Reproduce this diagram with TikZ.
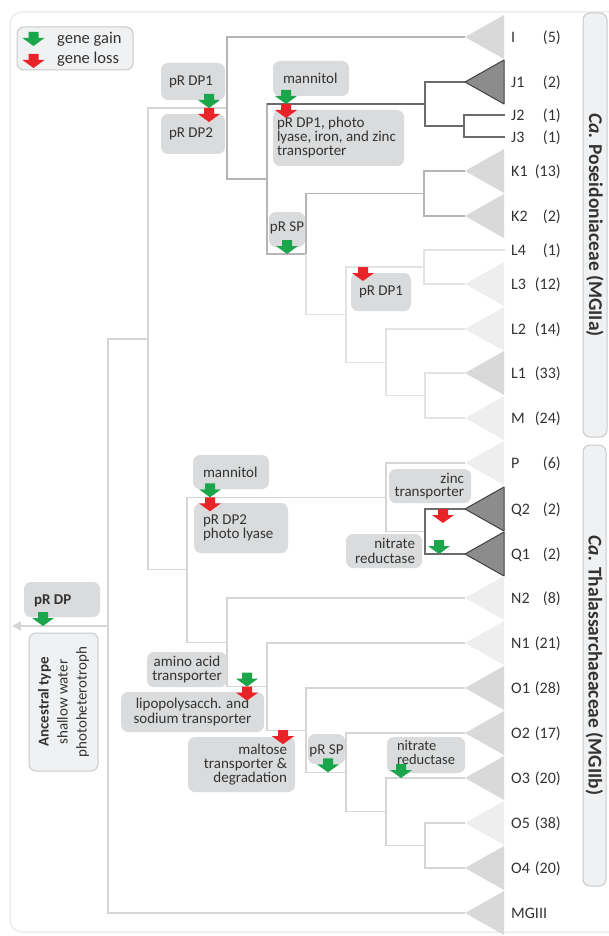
\documentclass[tikz,border=0pt]{standalone}
\usepackage{fontspec}
\setmainfont{Carlito}
\usetikzlibrary{arrows.meta}

\definecolor{gaingreen}{HTML}{1BA64B}
\definecolor{lossred}{HTML}{E82429}
\definecolor{tagfill}{HTML}{DADBDC}
\definecolor{softfill}{HTML}{F0F1F2}
\definecolor{softline}{HTML}{C8C9CA}
\definecolor{framegray}{HTML}{EBECEC}
\definecolor{textgray}{HTML}{333333}
\definecolor{rootgray}{HTML}{D5D5D5}
\definecolor{midgray}{HTML}{B5B5B5}
\definecolor{palegray}{HTML}{E3E3E3}
\definecolor{linedark}{HTML}{6B6B6B}
\definecolor{cladedark}{HTML}{8C8C8C}
\definecolor{cladegray}{HTML}{D9D9D9}
\definecolor{cladepale}{HTML}{EEEEEE}

\tikzset{
  gain/.pic={\fill[gaingreen] (-5,-14) -- (5,-14) -- (5,-8) -- (11,-8) -- (0,0) -- (-11,-8) -- (-5,-8) -- cycle;},
  loss/.pic={\fill[lossred] (-5,0) -- (5,0) -- (5,6) -- (11,6) -- (0,14) -- (-11,6) -- (-5,6) -- cycle;},
  clade/.pic={\path[pic actions] (0,0) -- (39,-22) -- (39,22) -- cycle;},
  tag/.style={fill=tagfill, rounded corners=7pt, inner sep=0pt},
  tagtext/.style={text=textgray, inner sep=0pt, font=\fontsize{15}{14.5}\selectfont},
  softbox/.style={fill=softfill, draw=softline, line width=1pt, rounded corners=7pt, inner sep=0pt, text=textgray},
  tipname/.style={anchor=base west, text=textgray, inner sep=0pt, font=\fontsize{16}{18}\selectfont},
  tipcount/.style={anchor=base east, text=textgray, inner sep=0pt, font=\fontsize{16}{18}\selectfont},
  darkclade/.style={fill=cladedark, draw=black!75, line width=1pt, line join=round},
}

\begin{document}
\begin{tikzpicture}[x=1pt,y=-1pt]
  \path[use as bounding box] (0,0) rectangle (609,936);
  \clip (0,0) rectangle (609,936);

  % frame and group boxes
  \draw[framegray, line width=1.5pt, rounded corners=12pt] (10,12) rectangle (660,932);
  \node[softbox, rotate=-90, minimum width=424pt, minimum height=24pt, font=\fontsize{19.5}{20}\selectfont\bfseries] (mgtwoa) at (595,225) {\textit{Ca.} Poseidoniaceae (MGIIa)};
  \node[softbox, rotate=-90, minimum width=441pt, minimum height=23pt, font=\fontsize{19.5}{20}\selectfont\bfseries] (mgtwob) at (594.5,665.5) {\textit{Ca.} Thalassarchaeaceae (MGIIb)};

  % legend
  \node[softbox, minimum width=116pt, minimum height=43pt] (legend) at (75,48.5) {};
  \pic at (33.5,46) {gain};
  \pic at (33.5,54) {loss};
  \node[anchor=base west, inner sep=0pt, text=textgray, font=\fontsize{16.5}{20}\selectfont] (gaintext) at (57,44) {gene gain};
  \node[anchor=base west, inner sep=0pt, text=textgray, font=\fontsize{16.5}{20}\selectfont] (losstext) at (57,64) {gene loss};

  % tree nodes
  \coordinate (stem) at (12,626);
  \coordinate (r)   at (108,626);
  \coordinate (a)   at (148,338.9);
  \coordinate (ia)  at (227,108);
  \coordinate (k)   at (267,179);
  \coordinate (j)   at (425,104);
  \coordinate (j23) at (464,126);
  \coordinate (kl)  at (306,254);
  \coordinate (kk)  at (424,193.5);
  \coordinate (l)   at (346,314.6);
  \coordinate (l34) at (424,267);
  \coordinate (lm)  at (386,362.3);
  \coordinate (l1m) at (425,395.5);
  \coordinate (ib)  at (187,569.8);
  \coordinate (pq)  at (386,497.3);
  \coordinate (q)   at (425,531.5);
  \coordinate (n)   at (227,642.3);
  \coordinate (o)   at (267,686.6);
  \coordinate (o1)  at (306,730.2);
  \coordinate (o2)  at (346,772.4);
  \coordinate (o3)  at (386,811.8);
  \coordinate (o4)  at (425,845.5);

  % tips
  \coordinate (tI)   at (465,37);
  \coordinate (tJ1)  at (465,82);
  \coordinate (tJ2)  at (505,115);
  \coordinate (tJ3)  at (505,137);
  \coordinate (tK1)  at (465,171);
  \coordinate (tK2)  at (465,216);
  \coordinate (tL4)  at (505,250);
  \coordinate (tL3)  at (465,284);
  \coordinate (tL2)  at (465,329);
  \coordinate (tL1)  at (465,373);
  \coordinate (tM)   at (465,418);
  \coordinate (tP)   at (465,463);
  \coordinate (tQ2)  at (465,509);
  \coordinate (tQ1)  at (465,554);
  \coordinate (tN2)  at (465,598);
  \coordinate (tN1)  at (465,643);
  \coordinate (tO1)  at (465,688);
  \coordinate (tO2)  at (465,733);
  \coordinate (tO3)  at (465,778);
  \coordinate (tO5)  at (465,823);
  \coordinate (tO4)  at (465,868);
  \coordinate (tMG)  at (465,913);

  % branches
  \draw[rootgray, line width=1.6pt, -{Triangle[length=9pt,width=9pt]}] (r) -- (stem);
  \begin{scope}[rootgray, line width=1.3pt]
    \draw (r) |- (a);
    \draw (r) |- (tMG);
    \draw (a) |- (ia);
    \draw (a) |- (ib);
    \draw (ib) |- (pq);
    \draw (ib) |- (n);
    \draw (pq) |- (tP);
    \draw (pq) |- (q);
    \draw (n) |- (tN2);
    \draw (n) |- (o);
    \draw (o) |- (tN1);
    \draw (o) |- (o1);
    \draw (o1) |- (tO1);
    \draw (o1) |- (o2);
    \draw (o2) |- (tO2);
    \draw (o2) |- (o3);
    \draw (o3) |- (tO3);
    \draw (o3) |- (o4);
    \draw (o4) |- (tO5);
    \draw (o4) |- (tO4);
  \end{scope}
  \begin{scope}[midgray, line width=1.3pt]
    \draw (ia) |- (tI);
    \draw (ia) |- (k);
    \draw (k) |- (j);
    \draw (k) |- (kl);
    \draw (kl) |- (kk);
    \draw (kk) |- (tK1);
    \draw (kk) |- (tK2);
  \end{scope}
  \begin{scope}[palegray, line width=1.3pt]
    \draw (kl) |- (l);
    \draw (l) |- (l34);
    \draw (l) |- (lm);
    \draw (l34) |- (tL4);
    \draw (l34) |- (tL3);
    \draw (lm) |- (tL2);
    \draw (lm) |- (l1m);
    \draw (l1m) |- (tL1);
    \draw (l1m) |- (tM);
  \end{scope}
  \begin{scope}[linedark, line width=1.3pt]
    \draw (k |- j) -- (j);
    \draw (j) |- (tJ1);
    \draw (j) |- (j23);
    \draw (j23) |- (tJ2);
    \draw (j23) |- (tJ3);
    \draw (q) |- (tQ2);
    \draw (q) |- (tQ1);
  \end{scope}

  % collapsed clades
  \pic[fill=cladegray] at (tI) {clade};
  \pic[darkclade] at (tJ1) {clade};
  \pic[fill=cladegray] at (tK1) {clade};
  \pic[fill=cladegray] at (tK2) {clade};
  \pic[fill=cladepale] at (tL3) {clade};
  \pic[fill=cladepale] at (tL2) {clade};
  \pic[fill=cladegray] at (tL1) {clade};
  \pic[fill=cladepale] at (tM) {clade};
  \pic[fill=cladepale] at (tP) {clade};
  \pic[darkclade] at (tQ2) {clade};
  \pic[darkclade] at (tQ1) {clade};
  \pic[fill=cladepale] at (tN2) {clade};
  \pic[fill=cladepale] at (tN1) {clade};
  \pic[fill=cladegray] at (tO1) {clade};
  \pic[fill=cladegray] at (tO2) {clade};
  \pic[fill=cladegray] at (tO3) {clade};
  \pic[fill=cladepale] at (tO5) {clade};
  \pic[fill=cladegray] at (tO4) {clade};
  \pic[fill=cladegray] at (tMG) {clade};

  % tip labels
  \node[tipname] (nI)  at (511,42.5)  {I};     \node[tipcount] (cI)  at (561,42.5)  {(5)};
  \node[tipname] (nJ1) at (511,87.5)  {J1};    \node[tipcount] (cJ1) at (561,87.5)  {(2)};
  \node[tipname] (nJ2) at (511,120.5) {J2};    \node[tipcount] (cJ2) at (561,120.5) {(1)};
  \node[tipname] (nJ3) at (511,142.5) {J3};    \node[tipcount] (cJ3) at (561,142.5) {(1)};
  \node[tipname] (nK1) at (511,176.5) {K1};    \node[tipcount] (cK1) at (561,176.5) {(13)};
  \node[tipname] (nK2) at (511,221.5) {K2};    \node[tipcount] (cK2) at (561,221.5) {(2)};
  \node[tipname] (nL4) at (511,255.5) {L4};    \node[tipcount] (cL4) at (561,255.5) {(1)};
  \node[tipname] (nL3) at (511,289.5) {L3};    \node[tipcount] (cL3) at (561,289.5) {(12)};
  \node[tipname] (nL2) at (511,334.5) {L2};    \node[tipcount] (cL2) at (561,334.5) {(14)};
  \node[tipname] (nL1) at (511,378.5) {L1};    \node[tipcount] (cL1) at (561,378.5) {(33)};
  \node[tipname] (nM)  at (511,423.5) {M};     \node[tipcount] (cM)  at (561,423.5) {(24)};
  \node[tipname] (nP)  at (511,468.5) {P};     \node[tipcount] (cP)  at (561,468.5) {(6)};
  \node[tipname] (nQ2) at (511,514.5) {Q2};    \node[tipcount] (cQ2) at (561,514.5) {(2)};
  \node[tipname] (nQ1) at (511,559.5) {Q1};    \node[tipcount] (cQ1) at (561,559.5) {(2)};
  \node[tipname] (nN2) at (511,603.5) {N2};    \node[tipcount] (cN2) at (561,603.5) {(8)};
  \node[tipname] (nN1) at (511,648.5) {N1};    \node[tipcount] (cN1) at (561,648.5) {(21)};
  \node[tipname] (nO1) at (511,693.5) {O1};    \node[tipcount] (cO1) at (561,693.5) {(28)};
  \node[tipname] (nO2) at (511,738.5) {O2};    \node[tipcount] (cO2) at (561,738.5) {(17)};
  \node[tipname] (nO3) at (511,783.5) {O3};    \node[tipcount] (cO3) at (561,783.5) {(20)};
  \node[tipname] (nO5) at (511,828.5) {O5};    \node[tipcount] (cO5) at (561,828.5) {(38)};
  \node[tipname] (nO4) at (511,873.5) {O4};    \node[tipcount] (cO4) at (561,873.5) {(20)};
  \node[tipname] (nMG) at (511,918.5) {MGIII};

  % gain / loss tags
  \node[tag, minimum width=64pt, minimum height=37pt] (dpone) at (193,81.5) {};
  \node[tagtext, anchor=west] at ([xshift=8pt]dpone.west) {pR DP1};
  \node[tag, minimum width=64pt, minimum height=40pt] (dptwo) at (193,134) {};
  \node[tagtext, anchor=west] at ([xshift=8pt]dptwo.west) {pR DP2};
  \node[tag, minimum width=76pt, minimum height=35pt] (mannA) at (311,78.5) {};
  \node[tagtext, anchor=west] at ([xshift=10pt]mannA.west) {mannitol};
  \node[tag, minimum width=131pt, minimum height=56pt] (photoA) at (338.5,138) {};
  \node[tagtext, anchor=west, align=left, font=\fontsize{15}{14}\selectfont] at ([xshift=4pt]photoA.west) {pR DP1, photo\\lyase, iron, and zinc\\transporter};
  \node[tag, minimum width=36pt, minimum height=35pt] (spA) at (287,229.5) {};
  \node[tagtext] at ([yshift=1.5pt]spA.center) {pR SP};
  \node[tag, minimum width=60pt, minimum height=38pt] (dpL) at (381,292) {};
  \node[tagtext] at (dpL.center) {pR DP1};
  \node[tag, minimum width=76pt, minimum height=34pt] (mannB) at (231,472) {};
  \node[tagtext, anchor=west] at ([xshift=10pt]mannB.west) {mannitol};
  \node[tag, minimum width=94pt, minimum height=50pt] (photoB) at (241,528) {};
  \node[tagtext, anchor=west, align=left] at ([xshift=9pt]photoB.west) {pR DP2\\photo lyase};
  \node[tag, minimum width=82pt, minimum height=34pt] (zinc) at (430,486) {};
  \node[tagtext, anchor=east, align=right, font=\fontsize{15}{13.5}\selectfont] at ([xshift=-7pt]zinc.east) {zinc\\transporter};
  \node[tag, minimum width=76pt, minimum height=34pt] (nitQ) at (384,551) {};
  \node[tagtext, anchor=east, align=right] at ([xshift=-7pt]nitQ.east) {nitrate\\reductase};
  \node[tag, minimum width=76pt, minimum height=35pt] (dp) at (62,599.5) {};
  \node[tagtext, anchor=west, font=\fontsize{15}{14}\selectfont\bfseries] at ([xshift=10pt,yshift=-1pt]dp.west) {pR DP};
  \node[softbox, rotate=90, minimum width=138pt, minimum height=69pt, align=center, font=\fontsize{15}{19}\selectfont] (anc) at (63.5,702) {\textbf{Ancestral type}\\shallow water\\photoheterotroph};
  \node[tag, minimum width=80pt, minimum height=35pt] (amino) at (187,669.5) {};
  \node[tagtext, align=center] at (amino.center) {amino acid\\transporter};
  \node[tag, minimum width=143pt, minimum height=40pt] (lipo) at (192.5,712) {};
  \node[tagtext, align=center] at (lipo.center) {lipopolysacch. and\\sodium transporter};
  \node[tag, minimum width=107pt, minimum height=55pt] (malt) at (241.5,764.5) {};
  \node[tagtext, anchor=east, align=right, font=\fontsize{15}{14}\selectfont] at ([xshift=-8pt]malt.east) {maltose\\transporter \&\\degradation};
  \node[tag, minimum width=37pt, minimum height=30pt] (spB) at (326.5,749) {};
  \node[tagtext] at ([yshift=-1.5pt]spB.center) {pR SP};
  \node[tag, minimum width=78pt, minimum height=36pt] (nitO) at (426,755) {};
  \node[tagtext, anchor=west, align=left, font=\fontsize{14.5}{13.5}\selectfont] at ([xshift=10pt,yshift=2.5pt]nitO.west) {nitrate\\reductase};

  % arrows on branches
  \pic at (209,108) {gain};
  \pic at (209,108) {loss};
  \pic at (286,104) {gain};
  \pic at (286,104) {loss};
  \pic at (287,254) {gain};
  \pic at (363,267) {loss};
  \pic at (210,497.3) {gain};
  \pic at (210,497.3) {loss};
  \pic at (443,509) {loss};
  \pic at (439,554) {gain};
  \pic at (43,626) {gain};
  \pic at (247,686.6) {gain};
  \pic at (247,686.6) {loss};
  \pic at (283,730.2) {loss};
  \pic at (328,772.4) {gain};
  \pic at (401,778) {gain};

\end{tikzpicture}
\end{document}
